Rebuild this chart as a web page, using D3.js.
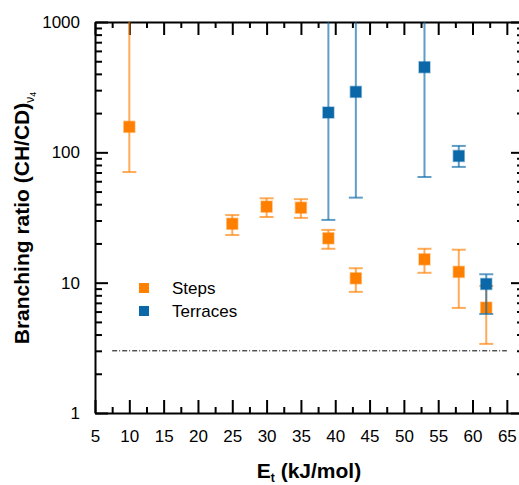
<!DOCTYPE html>
<html><head><meta charset="utf-8">
<script src="https://cdn.jsdelivr.net/npm/d3@7"></script>
<style>body{margin:0;background:#fff;} svg{display:block;font-family:"Liberation Sans",Arial,sans-serif;}</style>
</head><body>
<script>
const stepsX = [10, 25, 30, 35, 39, 43, 53, 58, 62];
const stepsY = [157, 28.3, 38.3, 37.6, 21.9, 10.8, 15.1, 12.1, 6.43];
const stepsLo = [70.6, 23.2, 31.9, 31.4, 18.2, 8.5, 11.9, 6.4, 3.39];
const stepsHi = [5000, 33, 44.4, 43.7, 25.4, 12.9, 18.2, 17.9, 9.44];
const terrX = [39, 43, 53, 58, 62];
const terrY = [202, 291, 450, 93.8, 9.77];
const terrLo = [30.3, 44.9, 64.7, 77.3, 5.75];
const terrHi = [5000, 5000, 5000, 112, 11.6];
const xTicks = [5,10,15,20,25,30,35,40,45,50,55,60,65];
const yTicks = [1,10,100,1000];
const refLevel = 3;
const legendLabels = ["Steps","Terraces"];
const colors = ["#ff8000","#0a68a8"];

const W=519,H=485;
const svg=d3.select("body").append("svg").attr("width",W).attr("height",H);
const x=d3.scaleLinear().domain([5,67.5]).range([95,524]);
const y=d3.scaleLog().domain([1,1000]).range([413,22]);

const minorX=d3.range(7.5,68,5);
const minorY=[];
for(let d=1;d<1000;d*=10){for(let k=2;k<=9;k++)minorY.push(d*k);}

function styleAxis(g){g.select(".domain").attr("stroke","#000").attr("stroke-width",2);
 g.selectAll(".tick line").attr("stroke","#000").attr("stroke-width",2);}

const fs="17px";
// bottom
const gb=svg.append("g").attr("transform",`translate(0,${y(1)})`)
 .call(d3.axisBottom(x).tickValues(xTicks).tickSize(-13).tickSizeOuter(0).tickPadding(17));
styleAxis(gb); gb.selectAll("text").attr("font-size",fs).attr("fill","#000").attr("font-family","Liberation Sans, Arial");
svg.append("g").attr("transform",`translate(0,${y(1)})`).call(d3.axisBottom(x).tickValues(minorX).tickSize(-6).tickFormat("")).call(styleAxis).select(".domain").remove();
// top
svg.append("g").attr("transform",`translate(0,${y(1000)})`).call(d3.axisTop(x).tickValues(xTicks).tickSize(-13).tickSizeOuter(0).tickFormat("")).call(styleAxis);
svg.append("g").attr("transform",`translate(0,${y(1000)})`).call(d3.axisTop(x).tickValues(minorX).tickSize(-6).tickFormat("")).call(styleAxis).select(".domain").remove();
// left
const gl=svg.append("g").attr("transform",`translate(${x(5)},0)`)
 .call(d3.axisLeft(y).tickValues(yTicks).tickSize(-13).tickSizeOuter(0).tickPadding(15).tickFormat(d3.format("d")));
styleAxis(gl); gl.selectAll("text").attr("font-size",fs).attr("fill","#000").attr("font-family","Liberation Sans, Arial");
svg.append("g").attr("transform",`translate(${x(5)},0)`).call(d3.axisLeft(y).tickValues(minorY).tickSize(-7).tickFormat("")).call(styleAxis).select(".domain").remove();
// right
svg.append("g").attr("transform",`translate(${x(67.5)},0)`).call(d3.axisRight(y).tickValues(yTicks).tickSize(-13).tickSizeOuter(0).tickFormat("")).call(styleAxis);
svg.append("g").attr("transform",`translate(${x(67.5)},0)`).call(d3.axisRight(y).tickValues(minorY).tickSize(-7).tickFormat("")).call(styleAxis).select(".domain").remove();

// reference line
svg.append("line").attr("x1",x(7.5)).attr("x2",x(65)).attr("y1",y(refLevel)).attr("y2",y(refLevel))
 .attr("stroke","#000").attr("stroke-width",1).attr("stroke-dasharray","5,2,1,2");

svg.append("clipPath").attr("id","clip").append("rect").attr("x",x(5)).attr("y",y(1000)).attr("width",x(67.5)-x(5)).attr("height",y(1)-y(1000));
const plot=svg.append("g").attr("clip-path","url(#clip)");

function drawSeries(xs,ys,lo,hi,col){
 const g=plot.append("g");
 const data=xs.map((v,i)=>({x:v,y:ys[i],lo:lo[i],hi:hi[i]}));
 const eb=g.selectAll(".eb").data(data).enter().append("g").attr("stroke",col).attr("stroke-opacity",0.65).attr("stroke-width",2);
 eb.append("line").attr("x1",d=>x(d.x)).attr("x2",d=>x(d.x)).attr("y1",d=>y(d.lo)).attr("y2",d=>y(Math.min(d.hi,1500)));
 eb.append("line").attr("x1",d=>x(d.x)-7).attr("x2",d=>x(d.x)+7).attr("y1",d=>y(d.lo)).attr("y2",d=>y(d.lo));
 eb.filter(d=>d.hi<1000).append("line").attr("x1",d=>x(d.x)-7).attr("x2",d=>x(d.x)+7).attr("y1",d=>y(d.hi)).attr("y2",d=>y(d.hi));
 g.selectAll(".pt").data(data).enter().append("rect")
  .attr("x",d=>x(d.x)-5.5).attr("y",d=>y(d.y)-5.5).attr("width",11).attr("height",11)
  .attr("fill",col).attr("stroke",col).attr("stroke-opacity",0.4).attr("stroke-width",1.5);
}
drawSeries(stepsX,stepsY,stepsLo,stepsHi,colors[0]);
drawSeries(terrX,terrY,terrLo,terrHi,colors[1]);

// legend
legendLabels.forEach((t,i)=>{
 const cy=288+i*23;
 svg.append("rect").attr("x",139).attr("y",cy-5).attr("width",10).attr("height",10).attr("fill",colors[i]);
 svg.append("text").attr("x",172).attr("y",cy+6).attr("font-size",fs).text(t);
});

// axis titles
const xt=svg.append("text").attr("x",309).attr("y",478).attr("text-anchor","middle").attr("font-size","21px").attr("font-weight","bold");
xt.append("tspan").text("E");
xt.append("tspan").attr("font-size","12px").attr("dy",4).text("t");
xt.append("tspan").attr("dy",-4).text(" (kJ/mol)");
const yt=svg.append("text").attr("transform","translate(29,218) rotate(-90)").attr("text-anchor","middle").attr("font-size","21px").attr("font-weight","bold");
yt.append("tspan").text("Branching ratio (CH/CD)");
yt.append("tspan").attr("font-size","12px").attr("font-weight","normal").attr("dy",5).text("ν");
yt.append("tspan").attr("font-size","9px").attr("font-weight","normal").attr("dy",2).text("4");
</script>
</body></html>
